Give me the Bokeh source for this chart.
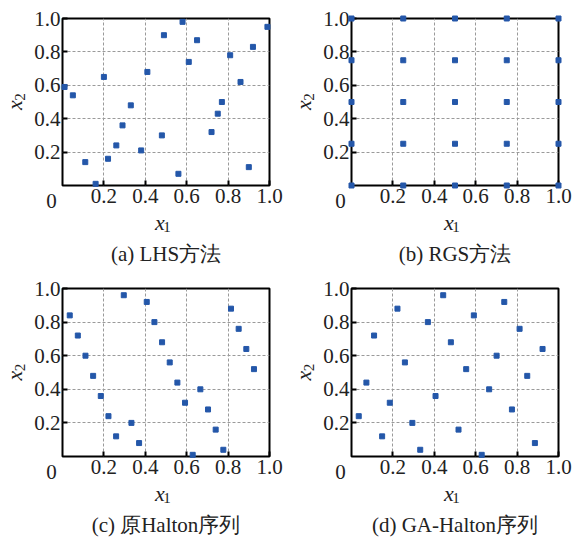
from bokeh.plotting import figure
from bokeh.layouts import gridplot
from bokeh.models import FixedTicker, Range1d
from bokeh.core.properties import value
from bokeh.embed import file_html
from bokeh.resources import INLINE

# ---- data ----
lhs_x = [0.01, 0.05, 0.11, 0.16, 0.20, 0.22, 0.26, 0.29, 0.33, 0.38, 0.41, 0.48, 0.49,
         0.56, 0.58, 0.61, 0.65, 0.72, 0.75, 0.77, 0.81, 0.86, 0.90, 0.92, 0.99]
lhs_y = [0.59, 0.54, 0.14, 0.01, 0.65, 0.16, 0.24, 0.36, 0.48, 0.21, 0.68, 0.30, 0.90,
         0.07, 0.98, 0.74, 0.87, 0.32, 0.43, 0.50, 0.78, 0.62, 0.11, 0.83, 0.95]

rgs_levels = [0.0, 0.25, 0.5, 0.75, 1.0]
rgs_x = [a for a in rgs_levels for b in rgs_levels]
rgs_y = [b for a in rgs_levels for b in rgs_levels]

halton_x = [0.035, 0.074, 0.111, 0.148, 0.185, 0.222, 0.259, 0.296, 0.333, 0.370, 0.407,
            0.444, 0.481, 0.518, 0.555, 0.592, 0.629, 0.666, 0.703, 0.740, 0.777, 0.814,
            0.851, 0.888, 0.925]
halton_y = [0.84, 0.72, 0.60, 0.48, 0.36, 0.24, 0.12, 0.96, 0.20, 0.08, 0.92, 0.80, 0.68,
            0.56, 0.44, 0.32, 0.01, 0.40, 0.28, 0.16, 0.04, 0.88, 0.76, 0.64, 0.52]

ga_x = [0.035, 0.072, 0.109, 0.148, 0.185, 0.222, 0.258, 0.294, 0.332, 0.369, 0.406,
        0.443, 0.480, 0.517, 0.554, 0.591, 0.629, 0.665, 0.701, 0.738, 0.775, 0.812,
        0.849, 0.886, 0.923]
ga_y = [0.24, 0.44, 0.72, 0.12, 0.32, 0.88, 0.56, 0.20, 0.04, 0.80, 0.36, 0.96, 0.68,
        0.16, 0.52, 0.84, 0.01, 0.40, 0.60, 0.92, 0.28, 0.76, 0.48, 0.08, 0.64]

tick_vals = [0.2, 0.4, 0.6, 0.8, 1.0]
tick_labels = ["0.2", "0.4", "0.6", "0.8", "1.0"]
captions = ["(a) LHS方法", "(b) RGS方法", "(c) 原Halton序列", "(d) GA-Halton序列"]

SERIF = "Liberation Serif"
MARK = "#2457a9"
INK = "#222222"


def panel(xs, ys, caption, w, h, left, right, top, bottom):
    p = figure(width=w, height=h, output_backend="svg", toolbar_location=None,
               x_range=Range1d(0, 1), y_range=Range1d(0, 1),
               min_border_left=left, min_border_right=right,
               min_border_top=top, min_border_bottom=bottom)
    p.background_fill_color = "white"
    p.border_fill_color = "white"
    p.outline_line_color = "black"
    p.outline_line_width = 2
    p.outline_line_alpha = 1
    for ax in (p.xaxis[0], p.yaxis[0]):
        ax.ticker = FixedTicker(ticks=tick_vals)
        ax.major_label_overrides = {v: s for v, s in zip(tick_vals, tick_labels)}
        ax.major_tick_in = 5
        ax.major_tick_out = 0
        ax.minor_tick_line_color = None
        ax.major_tick_line_color = "black"
        ax.major_tick_line_width = 2
        ax.axis_line_color = None
        ax.major_label_text_font = SERIF
        ax.major_label_text_font_size = "21px"
        ax.major_label_text_color = INK
    p.xaxis[0].major_label_standoff = 3
    p.yaxis[0].major_label_standoff = 2
    for g in (p.xgrid[0], p.ygrid[0]):
        g.ticker = FixedTicker(ticks=[0.2, 0.4, 0.6, 0.8])
        g.grid_line_color = "#9a9a9a"
        g.grid_line_dash = "3 2"
        g.grid_line_width = 1

    p.scatter(xs, ys, marker="square", size=5, color=MARK, level="overlay")

    fh = h - top - bottom
    fw = w - left - right
    cx = fw / 2
    cy = fh / 2

    def lab(px, py, text, size, style="normal", angle=0.0):
        # px, py: pixel offsets from the frame's lower-left corner, turned into data units
        p.text(x=[px / fw], y=[py / fh], text=[text], text_font=value(SERIF),
               text_font_size=value(size), text_color=INK, text_font_style=style,
               text_align="center", text_baseline="middle", angle=angle,
               level="overlay")

    # shared corner zero
    lab(-11, -15, "0", "21px")
    # x1 axis label
    lab(cx - 6, -37, "x", "22px", style="italic")
    lab(cx + 1, -41, "1", "15px")
    # x2 axis label (rotated)
    lab(-48, cy - 3, "x", "22px", style="italic", angle=1.5708)
    lab(-43, cy + 5, "2", "15px", angle=1.5708)
    # caption
    lab(cx, -68, caption, "21px")
    return p


pa = panel(lhs_x, lhs_y, captions[0], 287, 270, 62, 18, 18, 85)
pb = panel(rgs_x, rgs_y, captions[1], 288, 270, 64, 17, 18, 85)
pc = panel(halton_x, halton_y, captions[2], 287, 271, 62, 18, 18, 85)
pd = panel(ga_x, ga_y, captions[3], 288, 271, 64, 17, 18, 85)

grid = gridplot([[pa, pb], [pc, pd]], toolbar_location=None)

open("out.html", "w").write(file_html(grid, INLINE))
